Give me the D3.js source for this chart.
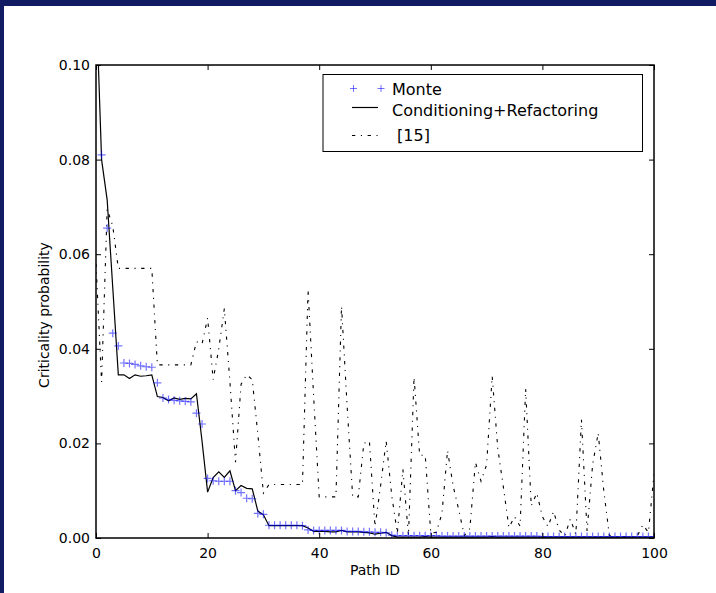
<!DOCTYPE html>
<html>
<head>
<meta charset="utf-8">
<script src="https://cdn.jsdelivr.net/npm/d3@7"></script>
<style>
  body { margin: 0; background: #fff; }
  svg { display: block; font-family: "DejaVu Sans", sans-serif; }
</style>
</head>
<body>
<div id="chart"></div>
<script>
////////////////////////////////////////////////////////////
// Data
////////////////////////////////////////////////////////////

const path_ids = d3.range(0, 101)

const monte = [
  0.115, 0.081, 0.0655, 0.0433, 0.0406, 0.0370, 0.0369, 0.0367, 0.0364, 0.0362,
  0.0361, 0.0328, 0.0296, 0.0293, 0.0291, 0.0290, 0.0289, 0.0288, 0.0264, 0.0241,
  0.0126, 0.0121, 0.0120, 0.0120, 0.0120, 0.0100, 0.0096, 0.0084, 0.0083, 0.0052,
  0.0050, 0.0027, 0.0027, 0.0027, 0.0027, 0.0027, 0.0027, 0.0026, 0.0017, 0.0016,
  0.0016, 0.0016, 0.0016, 0.0016, 0.0016, 0.0014, 0.0014, 0.0014, 0.0013, 0.0013,
  0.0012, 0.0012, 0.0011, 0.0006, 0.0005, 0.0005, 0.0005, 0.0005, 0.0005, 0.0005,
  0.0005, 0.0005, 0.0004, 0.0004, 0.0004, 0.0004, 0.0004, 0.0004, 0.0004, 0.0004,
  0.0004, 0.0004, 0.0004, 0.0004, 0.0004, 0.0004, 0.0004, 0.0004, 0.0004, 0.0004,
  0.0003, 0.0003, 0.0003, 0.0003, 0.0003, 0.0003, 0.0003, 0.0003, 0.0003, 0.0003,
  0.0003, 0.0003, 0.0003, 0.0003, 0.0003, 0.0003, 0.0003, 0.0003, 0.0003, 0.0003,
  0.0003
]

const cond_refactor = [
  0.115, 0.080, 0.0715, 0.053, 0.0345, 0.0345, 0.0337, 0.0345, 0.0342, 0.0343,
  0.0345, 0.0299, 0.0297, 0.0290, 0.0296, 0.0293, 0.0295, 0.0294, 0.0305, 0.0205,
  0.0097, 0.0128, 0.0140, 0.0128, 0.0142, 0.0100, 0.0111, 0.0105, 0.0104, 0.0057,
  0.0049, 0.0026, 0.0026, 0.0026, 0.0026, 0.0026, 0.0026, 0.0026, 0.0021, 0.0014,
  0.0014, 0.0014, 0.0013, 0.0013, 0.0016, 0.0013, 0.0013, 0.0013, 0.0012, 0.0011,
  0.0008, 0.0010, 0.0012, 0.0005, 0.0002, 0.0002, 0.0002, 0.0002, 0.0002, 0.0003,
  0.0002, 0.0002, 0.0002, 0.0002, 0.0002, 0.0002, 0.0002, 0.0002, 0.0002, 0.0002,
  0.0002, 0.0003, 0.0002, 0.0002, 0.0002, 0.0002, 0.0002, 0.0002, 0.0002, 0.0002,
  0.0002, 0.0002, 0.0002, 0.0002, 0.0002, 0.0002, 0.0002, 0.0002, 0.0002, 0.0002,
  0.0002, 0.0002, 0.0002, 0.0002, 0.0002, 0.0002, 0.0002, 0.0002, 0.0002, 0.0002,
  0.0002
]

const ref15 = [
  0.058, 0.033, 0.0695, 0.066, 0.057, 0.057, 0.057, 0.057, 0.057, 0.057,
  0.057, 0.0366, 0.0366, 0.0366, 0.0366, 0.0366, 0.0366, 0.0366, 0.0415, 0.0410,
  0.0465, 0.0335, 0.0400, 0.0485, 0.0330, 0.0160, 0.0325, 0.0345, 0.0335, 0.0220,
  0.0095, 0.0113, 0.0113, 0.0113, 0.0113, 0.0113, 0.0113, 0.0113, 0.0525, 0.0300,
  0.0087, 0.0087, 0.0087, 0.0087, 0.0490, 0.0280, 0.0087, 0.0087, 0.0200, 0.0205,
  0.0024, 0.0110, 0.0205, 0.0090, 0.0010, 0.0145, 0.0005, 0.0340, 0.0175, 0.0175,
  0.0010, 0.0012, 0.0052, 0.0185, 0.0110, 0.0060, 0.0005, 0.0020, 0.0160, 0.0120,
  0.0155, 0.0342, 0.0190, 0.0108, 0.0022, 0.0045, 0.0025, 0.0315, 0.0068, 0.0095,
  0.0045, 0.0024, 0.0056, 0.0017, 0.0004, 0.0040, 0.0008, 0.0250, 0.0015, 0.0155,
  0.0222, 0.0100, 0.0005, 0.0002, 0.0003, 0.0002, 0.0002, 0.0004, 0.0028, 0.0012,
  0.0135
]

const x_ticks = [0, 20, 40, 60, 80, 100]
const y_ticks = [0.00, 0.02, 0.04, 0.06, 0.08, 0.10]
const legend_labels = ['Monte', 'Conditioning+Refactoring', ' [15]']

////////////////////////////////////////////////////////////
// Layout
////////////////////////////////////////////////////////////

const W = 716
const H = 593
const plot = { left: 96, right: 654, top: 65, bottom: 538 }
const navy = '#111c63'
const monte_color = 'rgba(0,0,255,0.55)'

let svg = d3.select('#chart')
  .append('svg')
  .attr('width', W)
  .attr('height', H)

// Slide frame
svg.append('rect')
  .attr('x', 0).attr('y', 0)
  .attr('width', W).attr('height', 6)
  .attr('fill', navy)
svg.append('rect')
  .attr('x', 0).attr('y', 0)
  .attr('width', 4).attr('height', H)
  .attr('fill', navy)

let x_scale = d3.scaleLinear()
  .domain([0, 100])
  .range([plot.left, plot.right])

let y_scale = d3.scaleLinear()
  .domain([0, 0.1])
  .range([plot.bottom, plot.top])

svg.append('clipPath')
  .attr('id', 'plot-clip')
  .append('rect')
    .attr('x', plot.left)
    .attr('y', plot.top)
    .attr('width', plot.right - plot.left)
    .attr('height', plot.bottom - plot.top)

let plot_g = svg.append('g')
  .attr('clip-path', 'url(#plot-clip)')

////////////////////////////////////////////////////////////
// Series
////////////////////////////////////////////////////////////

let line = values => d3.line()
  .x((d, i) => x_scale(path_ids[i]))
  .y(d => y_scale(d))(values)

// [15]
plot_g.append('path')
  .attr('d', line(ref15))
  .attr('fill', 'none')
  .attr('stroke', '#000')
  .attr('stroke-width', 1.1)
  .attr('stroke-dasharray', '3.3,5.6,1.1,5.6')

// Conditioning+Refactoring
plot_g.append('path')
  .attr('d', line(cond_refactor))
  .attr('fill', 'none')
  .attr('stroke', '#000')
  .attr('stroke-width', 1.2)

// Monte
const plus = 'M-4,0H4M0,-4V4'
plot_g.selectAll('.monte')
  .data(monte)
  .enter()
  .append('path')
    .attr('class', 'monte')
    .attr('d', plus)
    .attr('transform', (d, i) => `translate(${x_scale(path_ids[i])},${y_scale(d)})`)
    .attr('fill', 'none')
    .attr('stroke', monte_color)
    .attr('stroke-width', 1.2)

////////////////////////////////////////////////////////////
// Axes
////////////////////////////////////////////////////////////

let axes_g = svg.append('g')

let add_axis = (axis, tx, ty) => {
  let g = axes_g.append('g')
    .attr('transform', `translate(${tx},${ty})`)
    .call(axis)
  g.select('.domain').remove()
  g.selectAll('.tick line').attr('stroke', '#000').attr('stroke-width', 1)
  return g
}

// Bottom
let bottom_axis = add_axis(
  d3.axisBottom(x_scale).tickValues(x_ticks).tickSize(-5).tickPadding(10).tickFormat(d3.format('d')),
  0, plot.bottom
)
bottom_axis.selectAll('text').attr('font-size', 14).attr('fill', '#000')
  .attr('font-family', 'DejaVu Sans')

// Top
add_axis(
  d3.axisTop(x_scale).tickValues(x_ticks).tickSize(-5).tickFormat(''),
  0, plot.top
)

// Left
let left_axis = add_axis(
  d3.axisLeft(y_scale).tickValues(y_ticks).tickSize(-5).tickPadding(6).tickFormat(d3.format('.2f')),
  plot.left, 0
)
left_axis.selectAll('text').attr('font-size', 14).attr('fill', '#000')
  .attr('font-family', 'DejaVu Sans')

// Right
add_axis(
  d3.axisRight(y_scale).tickValues(y_ticks).tickSize(-5).tickFormat(''),
  plot.right, 0
)

// Frame
axes_g.append('rect')
  .attr('x', plot.left)
  .attr('y', plot.top)
  .attr('width', plot.right - plot.left)
  .attr('height', plot.bottom - plot.top)
  .attr('fill', 'none')
  .attr('stroke', '#000')
  .attr('stroke-width', 1.5)

// Labels
svg.append('text')
  .attr('x', (plot.left + plot.right) / 2)
  .attr('y', 575)
  .attr('text-anchor', 'middle')
  .attr('font-size', 14)
  .text('Path ID')

svg.append('text')
  .attr('transform', `translate(49,315) rotate(-90)`)
  .attr('text-anchor', 'middle')
  .attr('font-size', 14)
  .text('Criticality probability')

////////////////////////////////////////////////////////////
// Legend
////////////////////////////////////////////////////////////

let legend = svg.append('g')

legend.append('rect')
  .attr('x', 323)
  .attr('y', 74.5)
  .attr('width', 319.5)
  .attr('height', 77)
  .attr('fill', '#fff')
  .attr('stroke', '#000')
  .attr('stroke-width', 1)

const legend_y = [88.5, 107.5, 135.5]

// Monte handle
for (let hx of [353.5, 381]) {
  legend.append('path')
    .attr('d', 'M-3.5,0H3.5M0,-3.5V3.5')
    .attr('transform', `translate(${hx},${legend_y[0]})`)
    .attr('fill', 'none')
    .attr('stroke', monte_color)
    .attr('stroke-width', 1)
}

// Conditioning handle
legend.append('line')
  .attr('x1', 352).attr('x2', 378)
  .attr('y1', legend_y[1]).attr('y2', legend_y[1])
  .attr('stroke', '#000')
  .attr('stroke-width', 1.2)

// [15] handle
legend.append('line')
  .attr('x1', 352).attr('x2', 378)
  .attr('y1', legend_y[2]).attr('y2', legend_y[2])
  .attr('stroke', '#000')
  .attr('stroke-width', 1.1)
  .attr('stroke-dasharray', '3.3,5.6,1.1,5.6')

legend.selectAll('.legend-text')
  .data(legend_labels)
  .enter()
  .append('text')
    .attr('class', 'legend-text')
    .attr('x', 392)
    .attr('y', (d, i) => [95, 116, 141][i])
    .attr('font-size', 16)
    .attr('xml:space', 'preserve')
    .style('white-space', 'pre')
    .text(d => d)
</script>
</body>
</html>
